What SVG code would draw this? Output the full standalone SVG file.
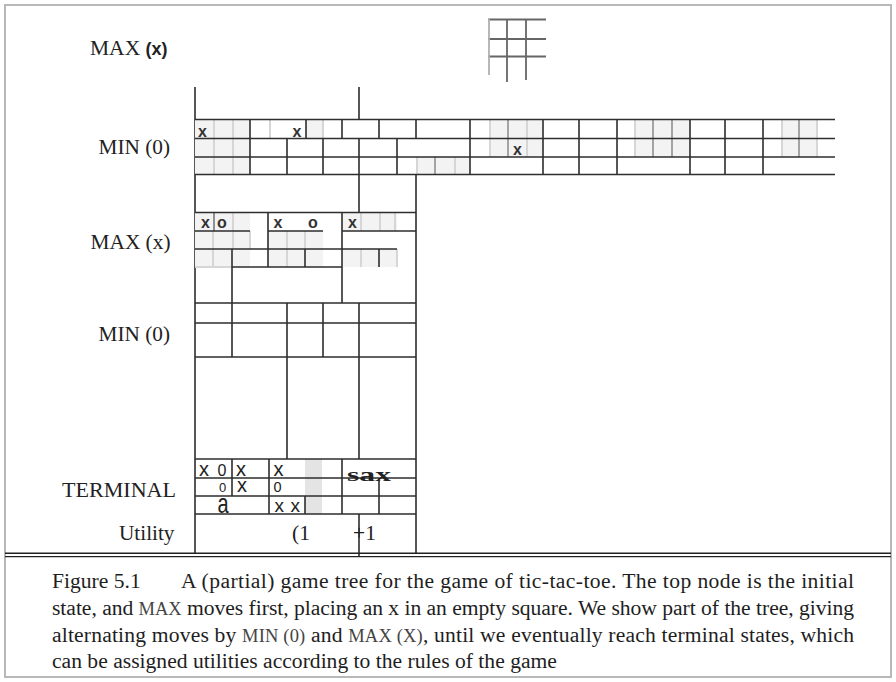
<svg xmlns="http://www.w3.org/2000/svg" width="896" height="682" viewBox="0 0 896 682">
<style>
.d{stroke:#2e2e2e;stroke-width:1.6;fill:none}
.f{stroke:#d6d6d6;stroke-width:2;fill:none}
.m{stroke:#a4a4a4;stroke-width:2;fill:none}
.g{stroke:#666;stroke-width:1.8;fill:none}
.tint{fill:#f3f3f3}
.lbl{font-family:"Liberation Serif","Times New Roman",serif;font-size:21.5px;fill:#222}
.cap{font-family:"Liberation Serif","Times New Roman",serif;font-size:21.6px;fill:#1e1e1e}
.sc{font-size:18.5px;fill:#444}
.mk{font-family:"Liberation Sans",Arial,sans-serif;font-weight:bold;font-size:16px;fill:#333}
.tm{font-family:"Liberation Sans",Arial,sans-serif;fill:#222}
</style>
<rect x="0" y="0" width="896" height="682" fill="#fff"/>
<rect x="5" y="5" width="886" height="672" fill="none" stroke="#b8b8b8" stroke-width="2"/>

<g id="labels">
  <text class="lbl" x="90" y="54.5" font-size="22.5">MAX <tspan font-family="Liberation Sans,Arial,sans-serif" font-weight="bold" font-size="18">(x)</tspan></text>
  <text class="lbl" x="98.5" y="153.5" textLength="71.5" lengthAdjust="spacingAndGlyphs">MIN (0)</text>
  <text class="lbl" x="90.5" y="249" textLength="80" lengthAdjust="spacingAndGlyphs">MAX (x)</text>
  <text class="lbl" x="98.5" y="340.5" textLength="71.5" lengthAdjust="spacingAndGlyphs">MIN (0)</text>
  <text class="lbl" x="62" y="496.5" textLength="114" lengthAdjust="spacingAndGlyphs">TERMINAL</text>
  <text class="lbl" x="119" y="540" textLength="55.5" lengthAdjust="spacingAndGlyphs">Utility</text>
</g>

<g id="node-root">
  <path class="g" d="M488 19.5H546M488 39H546M488 56.5H546M507 19V82M526 19V80"/>
  <path stroke="#b0b0b0" stroke-width="1.8" d="M489 19V75"/>
</g>

<g id="connectors">
  <path class="d" d="M195 87V553M359 87V119.5M359 174.5V212.5M416 174.5V553M359 303V459M359 514V556M287 303V459"/>
</g>

<g id="node-min-level">
  <rect class="tint" x="195" y="119.5" width="55" height="55"/>
  <rect class="tint" x="306" y="119.5" width="17" height="19"/>
  <rect class="tint" x="490" y="119.5" width="53" height="37.5"/>
  <rect class="tint" x="635" y="119.5" width="55" height="37.5"/>
  <rect class="tint" x="782" y="119.5" width="35" height="37.5"/>
  <rect class="tint" x="417" y="157" width="53" height="17.5"/>
  <path class="f" d="M214 119.5V174.5M233 119.5V174.5M270 119.5V138.5M323 119.5V138.5M490 119.5V157M527 119.5V157M635 119.5V157M782 119.5V157M817 119.5V157M417 157V174.5M455 157V174.5"/>
  <path class="m" d="M508 119.5V157M653 119.5V157M672 119.5V157M799 119.5V157M435 157V174.5"/>
  <path class="d" d="M195 119.5H835M195 138.5H835M195 157H835M195 174.5H835M250 119.5V174.5M470 119.5V174.5M543 119.5V174.5M579 119.5V174.5M617 119.5V174.5M690 119.5V174.5M725 119.5V174.5M763 119.5V174.5M287 138.5V174.5M323 138.5V174.5M359 138.5V174.5M397 138.5V174.5M306 119.5V138.5M342 119.5V138.5M379 119.5V138.5M416 119.5V138.5"/>
  <text class="mk" x="202.5" y="136.5" text-anchor="middle">x</text>
  <text class="mk" x="297" y="136.5" text-anchor="middle">x</text>
  <text class="mk" x="517.5" y="155" text-anchor="middle">x</text>
</g>

<g id="node-max-level">
  <rect class="tint" x="195" y="212.5" width="55" height="54.5"/>
  <rect class="tint" x="268" y="231" width="55" height="36"/>
  <rect class="tint" x="342" y="212.5" width="55" height="18.5"/>
  <rect class="tint" x="342" y="249" width="55" height="18"/>
  <path class="f" d="M233 212.5V249M361 212.5V231M380 212.5V231M395 212.5V231M213 231V267M250 231V249M287 231V267M305 231V249M361 249V267M397 249V267M195 267H232"/>
  <path stroke="#777" stroke-width="1.6" d="M214 212.5V231"/>
  <path class="d" d="M195 212.5H416M195 231H250M268 231H323M342 231H416M195 249H397M232 267H342M195 303H416M268 212.5V267M342 212.5V303M232 249V357M305 249V267M379 249V267"/>
  <text class="mk" x="205.5" y="227.5" text-anchor="middle">x</text>
  <text class="mk" x="222" y="227.5" text-anchor="middle">o</text>
  <text class="mk" x="278" y="227.5" text-anchor="middle">x</text>
  <text class="mk" x="313" y="227.5" text-anchor="middle">o</text>
  <text class="mk" x="352.5" y="227.5" text-anchor="middle">x</text>
</g>

<g id="node-min-level2">
  <path class="d" d="M195 323H416M195 357H416M323 303V357"/>
</g>

<g id="node-terminal">
  <rect x="305" y="459" width="17" height="55" fill="#e4e4e4"/>
  <path class="d" d="M195 459H416M195 478H416M195 496H416M195 514H416M232 459V496M269 459V514M305 496V514M342 459V514M379 478V514"/>
  <text class="tm" x="199" y="475.5" font-size="20">x</text>
  <text class="tm" x="217.5" y="475.5" font-size="16">0</text>
  <text class="tm" x="236" y="475.5" font-size="20">x</text>
  <text class="tm" x="273.5" y="475.5" font-size="20">x</text>
  <text class="tm" x="219" y="492" font-size="13">0</text>
  <text class="tm" x="237" y="492" font-size="20">x</text>
  <text class="tm" x="273.5" y="492" font-size="14.5">0</text>
  <text class="tm" transform="translate(217.5,513) scale(1,1.35)" font-size="20">a</text>
  <text class="tm" x="274.5" y="512" font-size="19">x</text>
  <text class="tm" x="290.5" y="512" font-size="19">x</text>
  <text x="347" y="481" font-family="Liberation Serif,Times New Roman,serif" font-weight="bold" font-size="19" fill="#222" textLength="44" lengthAdjust="spacingAndGlyphs">sax</text>
</g>

<g id="node-utility">
  <text class="lbl" x="292" y="540" fill="#888" font-size="20">(1</text>
  <text class="lbl" x="353" y="540" font-size="21">+1</text>
</g>

<g id="separator">
  <path stroke="#222" stroke-width="1.4" d="M5 553.2H891M5 556.6H891"/>
</g>

<g id="caption">
  <text class="cap" x="52" y="588">Figure 5.1</text>
  <text class="cap" x="181" y="588" textLength="673" lengthAdjust="spacing">A (partial) game tree for the game of tic-tac-toe. The top node is the initial</text>
  <text class="cap" x="52" y="615" textLength="802" lengthAdjust="spacing">state, and <tspan class="sc">MAX</tspan> moves first, placing an x in an empty square. We show part of the tree, giving</text>
  <text class="cap" x="52" y="642" textLength="802" lengthAdjust="spacing">alternating moves by <tspan class="sc">MIN (0)</tspan> and <tspan class="sc">MAX (X)</tspan>, until we eventually reach terminal states, which</text>
  <text class="cap" x="52" y="668">can be assigned utilities according to the rules of the game</text>
</g>
</svg>
